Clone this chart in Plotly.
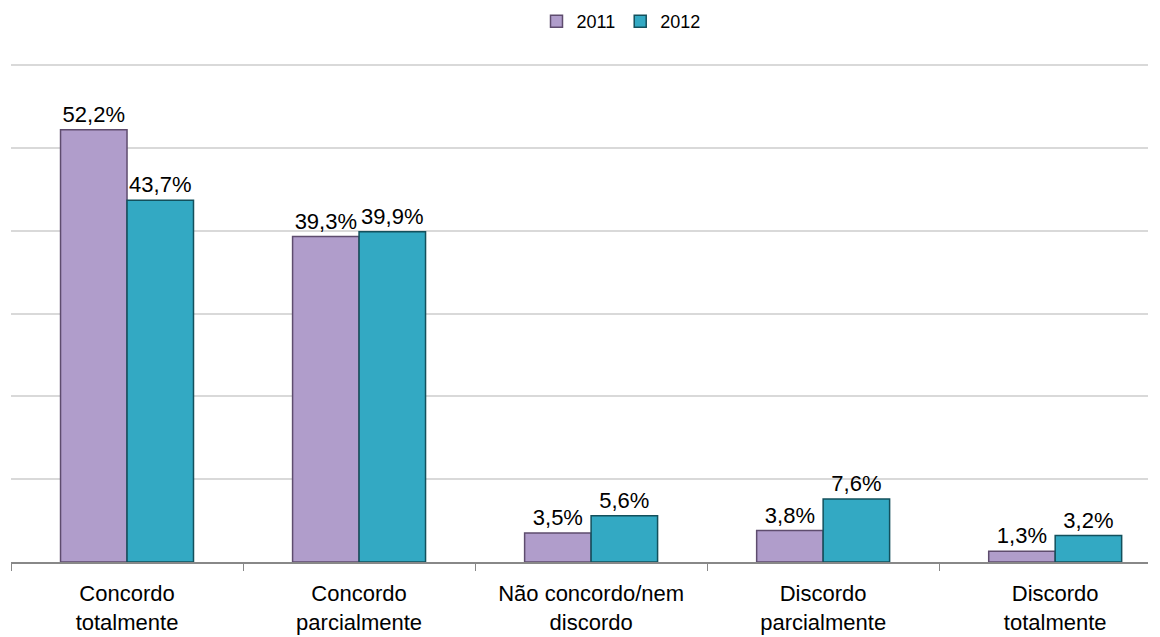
import plotly.graph_objects as go

categories = ["Concordo<br>totalmente", "Concordo<br>parcialmente", "Não concordo/nem<br>discordo",
              "Discordo<br>parcialmente", "Discordo<br>totalmente"]
series_names = ["2011", "2012"]
values_2011 = [52.2, 39.3, 3.5, 3.8, 1.3]
values_2012 = [43.7, 39.9, 5.6, 7.6, 3.2]

FONT = "Liberation Sans, Arial"

fig = go.Figure()
fig.add_trace(go.Bar(
    name=series_names[0], x=categories, y=values_2011,
    marker=dict(color="#B09DCB", line=dict(color="#5E4C6E", width=1.5)),
    text=[f"{v:.1f}%".replace(".", ",") for v in values_2011],
    textposition="outside", cliponaxis=False, constraintext="none",
    textfont=dict(family=FONT, size=22, color="#000000"),
))
fig.add_trace(go.Bar(
    name=series_names[1], x=categories, y=values_2012,
    marker=dict(color="#33A9C3", line=dict(color="#13505C", width=1.5)),
    text=[f"{v:.1f}%".replace(".", ",") for v in values_2012],
    textposition="outside", cliponaxis=False, constraintext="none",
    textfont=dict(family=FONT, size=22, color="#000000"),
))

fig.update_layout(
    width=1160, height=637,
    margin=dict(l=3, r=20, t=56, b=83, autoexpand=False),
    paper_bgcolor="white", plot_bgcolor="white",
    barmode="group", bargap=0.427, bargroupgap=0,
    font=dict(family=FONT, color="#000000"),
    legend=dict(orientation="h", x=0.5365, xanchor="center", y=1.085,
                yanchor="middle", font=dict(size=18), itemwidth=30, traceorder="normal"),
    showlegend=True,
)
fig.update_xaxes(
    automargin=False, range=[-0.5, 4.40],
    showline=True, linecolor="#888888", linewidth=1.5,
    ticks="outside", tickson="boundaries", ticklen=7, tickcolor="#888888",
    ticklabelstandoff=11,
    tickfont=dict(size=22, family=FONT),
)
fig.update_yaxes(
    automargin=False,
    range=[0, 60.15], tickvals=[10, 20, 30, 40, 50, 60], showticklabels=False,
    showgrid=True, gridcolor="#D9D9D9", gridwidth=1.5, zeroline=False,
)

fig.write_html("out.html")
